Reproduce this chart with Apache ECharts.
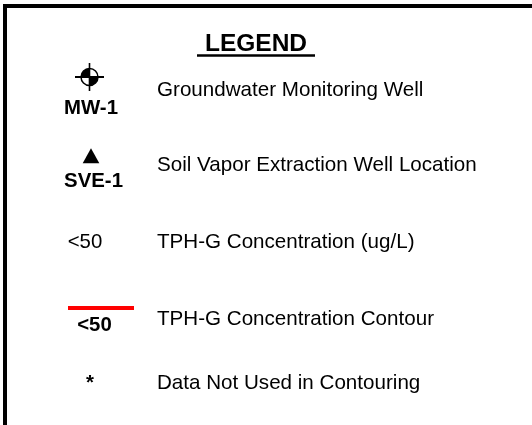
<!DOCTYPE html>
<html>
<head>
<meta charset="utf-8">
<script src="https://cdn.jsdelivr.net/npm/echarts@6/dist/echarts.min.js"></script>
<style>
  html, body { margin: 0; padding: 0; background: #fff; }
  #chart { width: 532px; height: 425px; }
</style>
</head>
<body>
<div id="chart"></div>
<script>
// ---- content (data) ----
const legendTitle = ' LEGEND ';
const symbolKinds = ['well', 'triangle', 'value', 'contour', 'asterisk'];
const symbolLabels = ['MW-1', 'SVE-1', '<50', '<50', '*'];
const descriptions = [
  'Groundwater Monitoring Well',
  'Soil Vapor Extraction Well Location',
  'TPH-G Concentration (ug/L)',
  'TPH-G Concentration Contour',
  'Data Not Used in Contouring'
];

// ---- layout (positions in chart coordinates) ----
const titlePos = [256, 44];
const underline = { x1: 197, x2: 315, y: 55.5 };
const descX = 157;
const rowY = [90.5, 165.5, 242, 319.5, 383];
const symbolPos = [[89.5, 77], [91, 156], [85, 242], [101, 308], [90, 383]];
const symbolLabelPos = [[91, 108], [93.5, 181], null, [94.5, 325.5], null];

const FONT = '"Liberation Sans", Arial, Helvetica, sans-serif';

function txt(p, s, size, weight, align) {
  return {
    type: 'text', x: p[0], y: p[1],
    style: { text: s, fill: '#000', fontSize: size, fontWeight: weight, fontFamily: FONT,
             align: align || 'left', verticalAlign: 'middle' }
  };
}

const chart = echarts.init(document.getElementById('chart'), null, { renderer: 'canvas' });

const axisLineStyle = { color: '#000', width: 4, cap: 'square' };

chart.setOption({
  animation: false,
  backgroundColor: '#fff',
  grid: { left: 5, top: 6, right: 0, bottom: 0 },
  xAxis: {
    type: 'value', min: 5, max: 532, position: 'top',
    axisLine: { show: true, onZero: false, lineStyle: axisLineStyle },
    axisTick: { show: false }, axisLabel: { show: false }, splitLine: { show: false }
  },
  yAxis: {
    type: 'value', min: 6, max: 425, inverse: true,
    axisLine: { show: true, onZero: false, lineStyle: axisLineStyle },
    axisTick: { show: false }, axisLabel: { show: false }, splitLine: { show: false }
  },
  series: [
    {
      type: 'custom', name: 'title', clip: false, silent: true,
      data: [[titlePos[0], titlePos[1]]],
      renderItem: function (params, api) {
        const c = api.coord([api.value(0), api.value(1)]);
        const a = api.coord([underline.x1, underline.y]);
        const b = api.coord([underline.x2, underline.y]);
        return {
          type: 'group',
          children: [
            txt(c, legendTitle.trim(), 24.5, 'bold', 'center'),
            { type: 'line', shape: { x1: a[0], y1: a[1], x2: b[0], y2: b[1] },
              style: { stroke: '#000', lineWidth: 2.5 } }
          ]
        };
      }
    },
    {
      type: 'custom', name: 'descriptions', clip: false, silent: true,
      data: descriptions.map((d, i) => [descX, rowY[i], i]),
      renderItem: function (params, api) {
        const c = api.coord([api.value(0), api.value(1)]);
        return txt(c, descriptions[params.dataIndex], 20.6, 'normal', 'left');
      }
    },
    {
      type: 'custom', name: 'symbols', clip: false, silent: true,
      data: symbolKinds.map((k, i) => [symbolPos[i][0], symbolPos[i][1], i]),
      renderItem: function (params, api) {
        const i = params.dataIndex;
        const kind = symbolKinds[i];
        const c = api.coord([api.value(0), api.value(1)]);
        const children = [];
        if (kind === 'well') {
          const r = 8.5;
          children.push(
            { type: 'sector', shape: { cx: c[0], cy: c[1], r0: 0, r: r, startAngle: Math.PI, endAngle: 1.5 * Math.PI }, style: { fill: '#000' } },
            { type: 'sector', shape: { cx: c[0], cy: c[1], r0: 0, r: r, startAngle: 0, endAngle: 0.5 * Math.PI }, style: { fill: '#000' } },
            { type: 'circle', shape: { cx: c[0], cy: c[1], r: r }, style: { fill: 'none', stroke: '#000', lineWidth: 1.5 } },
            { type: 'line', shape: { x1: c[0] - 14.5, y1: c[1], x2: c[0] + 14.5, y2: c[1] }, style: { stroke: '#000', lineWidth: 2 } },
            { type: 'line', shape: { x1: c[0], y1: c[1] - 14, x2: c[0], y2: c[1] + 14 }, style: { stroke: '#000', lineWidth: 1.6 } }
          );
        } else if (kind === 'triangle') {
          children.push({ type: 'polygon', shape: { points: [[c[0], c[1] - 7.7], [c[0] + 8.3, c[1] + 7.3], [c[0] - 8.3, c[1] + 7.3]] }, style: { fill: '#000' } });
        } else if (kind === 'value') {
          children.push(txt(c, symbolLabels[i], 20.4, 'normal', 'center'));
        } else if (kind === 'contour') {
          children.push({ type: 'line', shape: { x1: c[0] - 33, y1: c[1], x2: c[0] + 33, y2: c[1] }, style: { stroke: '#ff0000', lineWidth: 4 } });
        } else if (kind === 'asterisk') {
          children.push(txt(c, symbolLabels[i], 20.4, 'bold', 'center'));
        }
        const lp = symbolLabelPos[i];
        if (lp && kind !== 'value' && kind !== 'asterisk') {
          const lc = api.coord(lp);
          children.push(txt(lc, symbolLabels[i], 20.4, 'bold', 'center'));
        }
        return { type: 'group', children: children };
      }
    }
  ]
});
</script>
</body>
</html>
